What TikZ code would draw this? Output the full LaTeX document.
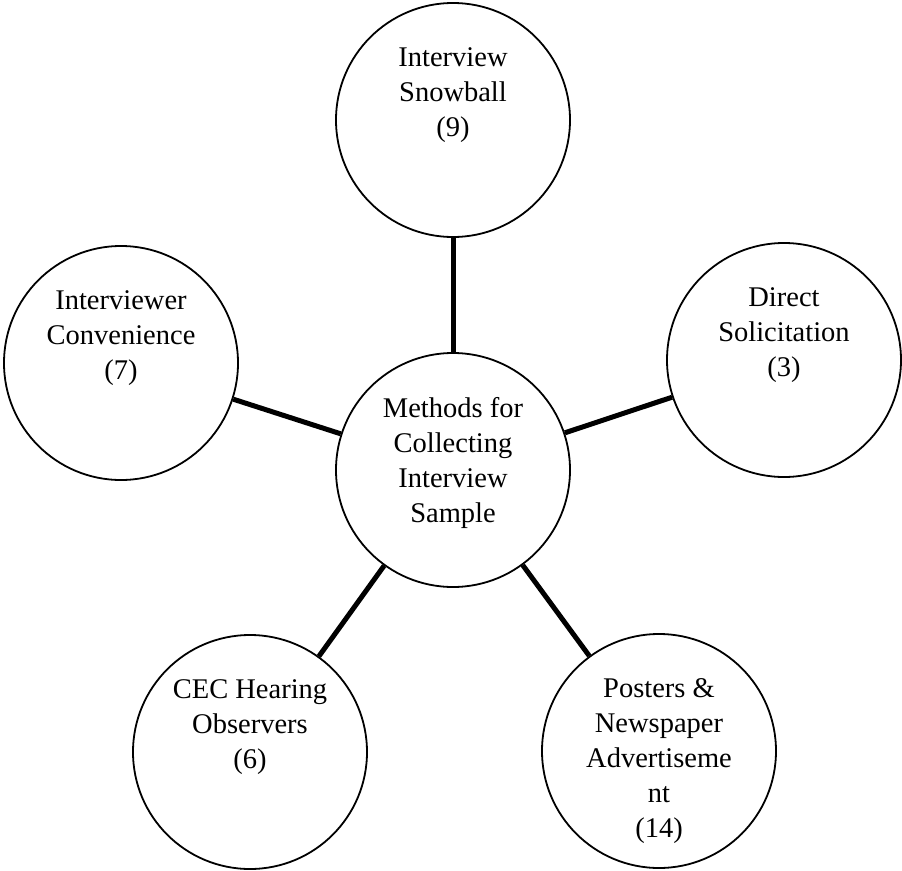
\documentclass[tikz,border=0pt]{standalone}
\usepackage{fontspec}
\setmainfont{Liberation Serif}
\usetikzlibrary{positioning}

\begin{document}
\begin{tikzpicture}[x=1pt, y=-1pt,
    bubble/.style={circle, draw, line width=1.8pt, fill=white, minimum size=234pt, inner sep=0pt},
    txt/.style={align=center, inner sep=0pt, anchor=north,
      font=\fontsize{28.5}{35}\selectfont},
    link/.style={line width=5pt}]
  \useasboundingbox (0,0) rectangle (902,870);
  % The hub and the five methods round it.
  \node[bubble] (hub)    at (453,470) {};
  \node[bubble] (snow)   at (453,120) {};
  \node[bubble] (conv)   at (121,363) {};
  \node[bubble] (direct) at (784,360) {};
  \node[bubble] (cec)    at (250,752) {};
  \node[bubble] (poster) at (659,751) {};
  % Spokes from the hub to each method.
  \foreach \m in {snow,conv,direct,cec,poster}
    \draw[link] (hub) -- (\m);
  % Texts, set from the top of each circle.
  \node[txt] (hub-t)    at ([yshift=73pt]hub.center)    {Methods for\\Collecting\\Interview\\Sample};
  \node[txt] (snow-t)   at ([yshift=73pt]snow.center)   {Interview\\Snowball\\(9)};
  \node[txt] (conv-t)   at ([yshift=73pt]conv.center)   {Interviewer\\Convenience\\(7)};
  \node[txt] (direct-t) at ([yshift=73pt]direct.center) {Direct\\Solicitation\\(3)};
  \node[txt] (cec-t)    at ([yshift=73pt]cec.center)    {CEC Hearing\\Observers\\(6)};
  \node[txt] (poster-t) at ([yshift=73pt]poster.center) {Posters \&\\Newspaper\\Advertiseme\\nt\\(14)};
\end{tikzpicture}
\end{document}
